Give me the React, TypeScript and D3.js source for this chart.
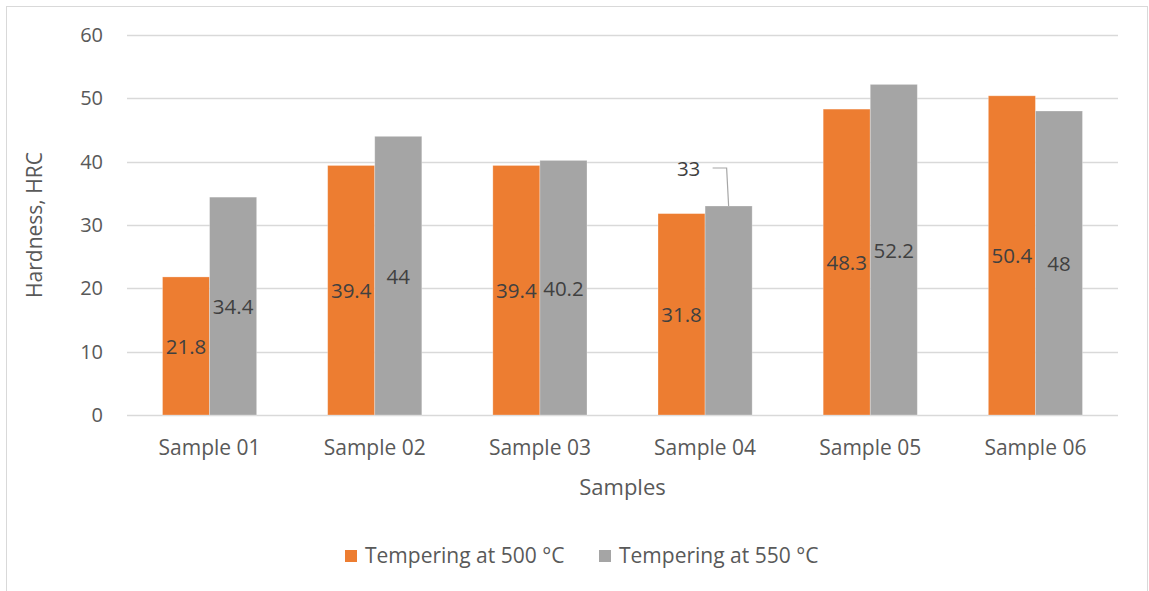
import React from "react";
import * as d3 from "d3";

const categories = ["Sample 01", "Sample 02", "Sample 03", "Sample 04", "Sample 05", "Sample 06"];
const seriesNames = ["Tempering at 500 °C", "Tempering at 550 °C"];
const temper500 = [21.8, 39.4, 39.4, 31.8, 48.3, 50.4];
const temper550 = [34.4, 44, 40.2, 33, 52.2, 48];
const yTicks = [0, 10, 20, 30, 40, 50, 60];
const colors = ["#ED7D31", "#A5A5A5"];

const W = 1149, H = 591;
const FONT = "'Open Sans', 'Noto Sans', sans-serif";

export default function App() {
  const x = d3.scaleBand<string>().domain(categories).range([127, 1118]).paddingInner(0.43).paddingOuter(0.215);
  const y = d3.scaleLinear().domain([0, 60]).range([415, 35]);
  const xs = d3.scaleBand<number>().domain([0, 1]).range([0, x.bandwidth()]);
  const series = [temper500, temper550];
  const bw = xs.bandwidth();
  const legendX = [345, 599];

  return (
    <svg width={W} height={H} style={{ position: "absolute", left: 0, top: 0, background: "#fff" }} fontFamily={FONT}>
      <rect x={6.5} y={6.5} width={1141} height={620} fill="#fff" stroke="#d9d9d9" />
      {yTicks.map((t) => (
        <g key={t}>
          <line x1={127} x2={1118} y1={Math.round(y(t)) + 0.5} y2={Math.round(y(t)) + 0.5} stroke="#d9d9d9" strokeWidth={1.3} />
          <text x={103} y={y(t) + 7} textAnchor="end" fontSize={20} fill="#595959">{t}</text>
        </g>
      ))}
      {categories.map((c, i) => (
        <g key={c}>
          {series.map((s, k) => {
            const bx = (x(c) as number) + (xs(k) as number);
            return (
              <rect key={k} x={bx} y={y(s[i])} width={bw} height={y(0) - y(s[i])} fill={colors[k]} stroke="#fff" strokeOpacity={0.35} strokeWidth={0.8} />
            );
          })}
          {series.map((s, k) => {
            const bx = (x(c) as number) + (xs(k) as number) + bw / 2;
            const isLeader = i === 3 && k === 1;
            if (isLeader) {
              const top = y(s[i]);
              return (
                <g key={"l" + k}>
                  <polyline points={`${bx - 16},${top - 38} ${bx - 2},${top - 38} ${bx},${top}`} fill="none" stroke="#a6a6a6" strokeWidth={1.2} />
                  <text x={bx - 40} y={top - 30} textAnchor="middle" fontSize={20.5} fill="#404040">{s[i]}</text>
                </g>
              );
            }
            return (
              <text key={"l" + k} x={bx} y={(y(s[i]) + y(0)) / 2 + 8} textAnchor="middle" fontSize={20.5} fill="#404040">{s[i]}</text>
            );
          })}
          <text x={(x(c) as number) + x.bandwidth() / 2} y={455} textAnchor="middle" fontSize={21} fill="#595959">{c}</text>
        </g>
      ))}
      <text transform={`translate(42,225) rotate(-90)`} textAnchor="middle" fontSize={21} fill="#595959">Hardness, HRC</text>
      <text x={622.5} y={495} textAnchor="middle" fontSize={22} fill="#595959">Samples</text>
      {seriesNames.map((n, k) => (
        <g key={n} transform={`translate(${legendX[k]},550)`}>
          <rect x={0} y={0} width={12} height={12} fill={colors[k]} />
          <text x={20} y={13} fontSize={21} fill="#595959">{n}</text>
        </g>
      ))}
    </svg>
  );
}
